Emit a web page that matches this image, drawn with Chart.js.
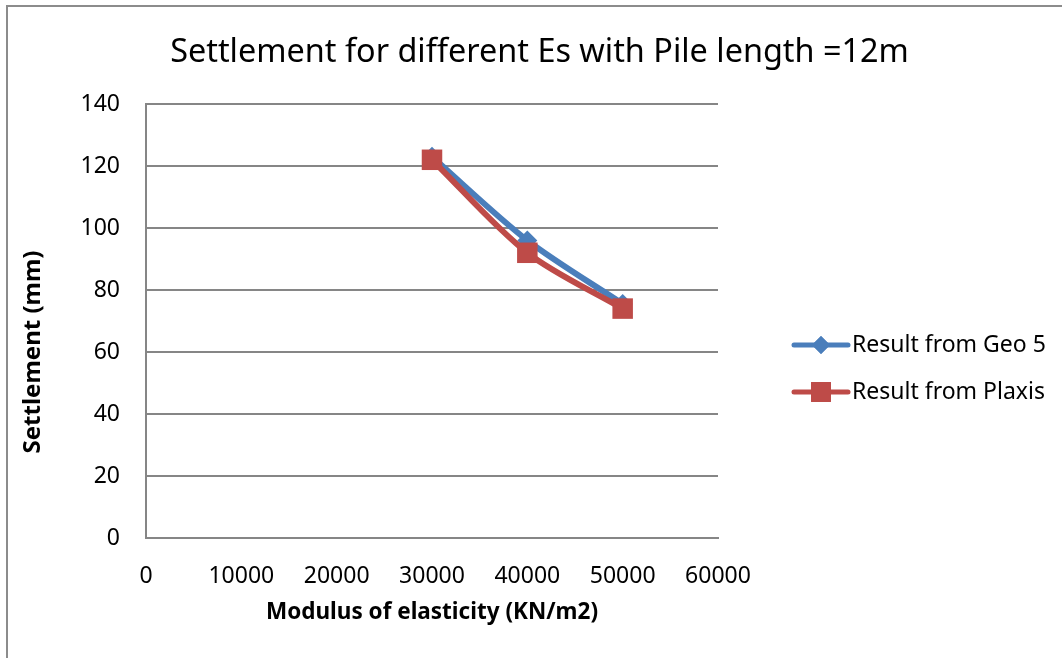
<!DOCTYPE html>
<html lang="en">
<head>
    <meta charset="utf-8">
    <title>Settlement for different Es</title>
    <script src="https://cdn.jsdelivr.net/npm/chart.js"></script>
    <style>
        body {
            margin: 0;
            background: #ffffff;
            overflow: hidden;
        }
        .chart-box {
            position: relative;
            width: 1062px;
            height: 658px;
        }
        .frame {
            position: absolute;
            left: 6px;
            top: 5px;
            width: 1100px;
            height: 700px;
            border: 2px solid #8c8c8c;
            pointer-events: none;
        }
    </style>
</head>
<body>

    <div class="chart-box">
        <canvas id="settlementChart" width="1062" height="658"></canvas>
        <div class="frame"></div>
    </div>

    <script>
        // Modulus of elasticity Es (KN/m2)
        const modulusValues = [30000, 40000, 50000];
        // Settlement (mm)
        const geo5Settlement = [123, 96, 75.5];
        const plaxisSettlement = [122, 92, 74];

        const xTicks = [0, 10000, 20000, 30000, 40000, 50000, 60000];
        const yTicks = [0, 20, 40, 60, 80, 100, 120, 140];

        const seriesNames = ['Result from Geo 5', 'Result from Plaxis'];
        const blue = '#4a7ebb';
        const red = '#be4b48';
        const fontFamily = "'Noto Sans', 'Open Sans', sans-serif";

        const toPoints = (xs, ys) => xs.map((x, i) => ({ x: x, y: ys[i] }));

        // Legend on the right: a short line with the marker, then the name
        const sideLegend = {
            id: 'sideLegend',
            afterDraw(chart) {
                const c = chart.ctx;
                const items = [
                    { name: seriesNames[0], color: blue, style: 'rectRot', r: 9, y: 345 },
                    { name: seriesNames[1], color: red, style: 'rect', r: 14, y: 392 }
                ];
                c.save();
                items.forEach(it => {
                    c.strokeStyle = it.color;
                    c.lineWidth = 5;
                    c.lineCap = 'round';
                    c.beginPath();
                    c.moveTo(794, it.y);
                    c.lineTo(848, it.y);
                    c.stroke();
                    c.fillStyle = it.color;
                    Chart.helpers.drawPoint(c, { pointStyle: it.style, radius: it.r, borderWidth: 0 }, 821, it.y);
                    c.fill();
                    c.fillStyle = '#000000';
                    c.font = '23px ' + fontFamily;
                    c.textBaseline = 'middle';
                    c.fillText(it.name, 852, it.y);
                });
                c.restore();
            }
        };

        // Vertical axis title, drawn a bit below the middle of the plot
        const yAxisTitle = {
            id: 'yAxisTitle',
            afterDraw(chart) {
                const c = chart.ctx;
                c.save();
                c.translate(33, 352);
                c.rotate(-Math.PI / 2);
                c.font = 'bold 24px ' + fontFamily;
                c.fillStyle = '#000000';
                c.textAlign = 'center';
                c.textBaseline = 'middle';
                c.fillText('Settlement (mm)', 0, 0);
                c.restore();
            }
        };

        const ctx = document.getElementById('settlementChart').getContext('2d');

        const settlementChart = new Chart(ctx, {
            type: 'line',
            data: {
                datasets: [{
                    label: seriesNames[0],
                    data: toPoints(modulusValues, geo5Settlement),
                    borderColor: blue,
                    backgroundColor: blue,
                    borderWidth: 6,
                    pointStyle: 'rectRot',
                    pointRadius: 10,
                    pointBorderWidth: 0,
                    tension: 0.3,
                    order: 1
                }, {
                    label: seriesNames[1],
                    data: toPoints(modulusValues, plaxisSettlement),
                    borderColor: red,
                    backgroundColor: red,
                    borderWidth: 6,
                    pointStyle: 'rect',
                    pointRadius: 14.5,
                    pointBorderWidth: 0,
                    tension: 0.3,
                    order: 0
                }]
            },
            options: {
                responsive: false,
                animation: false,
                layout: {
                    padding: { left: 17, right: 0, top: 0, bottom: 0 }
                },
                scales: {
                    x: {
                        type: 'linear',
                        min: 0,
                        max: 60000,
                        afterBuildTicks: s => { s.ticks = xTicks.map(v => ({ value: v })); },
                        afterFit: s => { s.height = 120; },
                        ticks: {
                            color: '#000000',
                            padding: 25,
                            font: { family: fontFamily, size: 23 },
                            callback: v => String(v)
                        },
                        grid: { display: false, drawTicks: false },
                        border: { display: true, color: '#868686', width: 2 },
                        title: {
                            display: true,
                            text: 'Modulus of elasticity (KN/m2)',
                            color: '#000000',
                            font: { family: fontFamily, size: 22.5, weight: 'bold' },
                            padding: { top: 0, bottom: 32 }
                        }
                    },
                    y: {
                        min: 0,
                        max: 140,
                        afterBuildTicks: s => { s.ticks = yTicks.map(v => ({ value: v })); },
                        afterFit: s => { s.width = 129; },
                        ticks: {
                            color: '#000000',
                            padding: 26,
                            font: { family: fontFamily, size: 23 }
                        },
                        grid: { color: '#868686', lineWidth: 2, drawTicks: false },
                        border: { display: true, color: '#868686', width: 2 }
                    },
                    // empty right-hand strip that leaves room for the legend
                    legendSpace: {
                        type: 'linear',
                        position: 'right',
                        afterFit: s => { s.width = 344; },
                        ticks: { display: false },
                        grid: { display: false, drawTicks: false },
                        border: { display: false }
                    }
                },
                plugins: {
                    legend: { display: false },
                    tooltip: { enabled: false },
                    title: {
                        display: true,
                        text: 'Settlement for different Es with Pile length =12m',
                        color: '#000000',
                        font: { family: fontFamily, size: 32.4, weight: 'normal', lineHeight: 1.2 },
                        padding: { top: 33, bottom: 32.1 }
                    }
                }
            },
            plugins: [sideLegend, yAxisTitle]
        });
    </script>

</body>
</html>
